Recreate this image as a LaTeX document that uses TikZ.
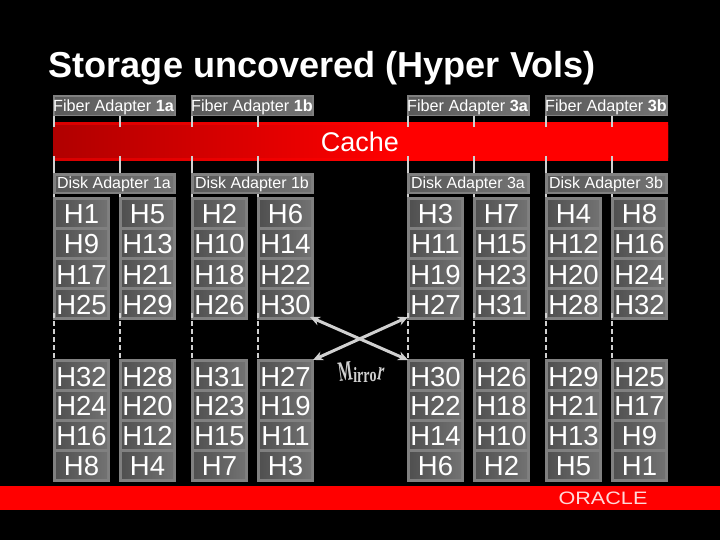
\documentclass[tikz,border=0pt]{standalone}
\usepackage{fontspec}
\usetikzlibrary{arrows.meta}
\setmainfont{Liberation Sans}
\newfontfamily\mirrorfont{Liberation Serif}
\definecolor{framegray}{HTML}{808080}
\definecolor{celldark}{HTML}{505050}
\definecolor{celllight}{HTML}{727272}
\definecolor{linegray}{HTML}{D0D0D0}
\definecolor{cacherim}{HTML}{D80000}
\definecolor{cachedark}{HTML}{B00000}
\pgfdeclarehorizontalshading{cacheinner}{100bp}{color(0bp)=(cachedark); color(25bp)=(cachedark); color(53bp)=(red); color(100bp)=(red)}
\pgfdeclarehorizontalshading{cacheouter}{100bp}{color(0bp)=(cacherim); color(25bp)=(cacherim); color(53bp)=(red); color(100bp)=(red)}
\tikzset{
  stackbox/.style={fill=framegray,draw=none,anchor=north west,inner sep=0pt,minimum width=57pt,minimum height=123pt},
  cellbox/.style={left color=celldark,right color=celllight,draw=none,inner sep=0pt,minimum width=51pt,minimum height=26pt,text height=21pt,text depth=0pt,text=white,font=\fontsize{27.5}{28}\selectfont},
  adapterbox/.style={fill=framegray,draw=none,inner sep=0pt,minimum width=123pt,minimum height=21pt},
  innerbox/.style={left color=celldark!80!framegray,right color=celllight!90!framegray,draw=none,inner sep=0pt,minimum width=117pt,minimum height=15pt},
  tick/.style={draw=linegray,line width=1.8pt},
  dashtick/.style={draw=linegray,line width=1.8pt,dash pattern=on 5pt off 3pt},
  mirrorarrow/.style={draw=linegray,line width=3pt,{Stealth[length=10pt,width=9pt]}-{Stealth[length=10pt,width=9pt]}}
}
\begin{document}
\begin{tikzpicture}[x=1pt,y=-1pt]
\useasboundingbox (0,0) rectangle (720,540);
\fill[black] (0,0) rectangle (720,540);
\node[anchor=base west,inner sep=0pt,text=white,font=\fontsize{36.1}{36}\selectfont\bfseries] (title) at (48.5,77.5) {Storage uncovered (Hyper Vols)};
% cache band
\shade[shading=cacheouter] (53,123) rectangle (668,161);
\shade[shading=cacheinner] (53,126) rectangle (668,158);
\node[text=white,inner sep=0pt,font=\fontsize{27}{27}\selectfont,anchor=base] (cache) at (360,152) {Cache};
% ticks
\foreach \tx/\nm in {54/a,120/b,192/c,258/d,408/e,474/f,546/g,612/h}{
  \coordinate (f\nm) at (\tx,116);
  \coordinate (c\nm) at (\tx,127);
  \coordinate (p\nm) at (\tx,156);
  \coordinate (d\nm) at (\tx,173);
  \coordinate (q\nm) at (\tx,194);
  \coordinate (s\nm) at (\tx,199);
  \draw[tick] (f\nm) -- (c\nm);
  \draw[tick] (p\nm) -- (d\nm);
  \draw[tick] (q\nm) -- (s\nm);
}
% adapters
\foreach \ax/\nm/\fa/\da in {53/1/1a/1a,191/2/1b/1b,407/3/3a/3a,545/4/3b/3b}{
  \node[adapterbox,anchor=north west] (fiber\nm) at (\ax,95) {};
  \node[innerbox,anchor=north west,minimum width=119pt,minimum height=17pt] (fiberin\nm) at (\ax+2,97) {};
  \node[anchor=base west,inner sep=0pt,text=white,font=\fontsize{16.2}{16}\selectfont] (fibert\nm) at (\ax,111.5) {Fiber Adapter \textbf{\fa}};
  \node[adapterbox,anchor=north west] (disk\nm) at (\ax,173) {};
  \node[innerbox,anchor=north west] (diskin\nm) at (\ax+3,176) {};
  \node[anchor=base,inner sep=0pt,text=white,font=\fontsize{16}{16}\selectfont] (diskt\nm) at (\ax+61,189) {Disk Adapter \da};
}
% stacks
\foreach \cx/\nm/\ta/\tb/\tc/\td/\ba/\bb/\bc/\bd in {
  53/a/H1/H9/H17/H25/H32/H24/H16/H8,
  119/b/H5/H13/H21/H29/H28/H20/H12/H4,
  191/c/H2/H10/H18/H26/H31/H23/H15/H7,
  257/d/H6/H14/H22/H30/H27/H19/H11/H3,
  407/e/H3/H11/H19/H27/H30/H22/H14/H6,
  473/f/H7/H15/H23/H31/H26/H18/H10/H2,
  545/g/H4/H12/H20/H28/H29/H21/H13/H5,
  611/h/H8/H16/H24/H32/H25/H17/H9/H1}{
  \node[stackbox] (top\nm) at (\cx,197) {};
  \node[stackbox] (bot\nm) at (\cx,359) {};
  \node[cellbox] (t1\nm) at (\cx+28.5,213.5) {\ta};
  \node[cellbox] (t2\nm) at (\cx+28.5,243.5) {\tb};
  \node[cellbox] (t3\nm) at (\cx+28.5,273.5) {\tc};
  \node[cellbox] (t4\nm) at (\cx+28.5,303.5) {\td};
  \node[cellbox] (b1\nm) at (\cx+28.5,375.5) {\ba};
  \node[cellbox] (b2\nm) at (\cx+28.5,405) {\bb};
  \node[cellbox] (b3\nm) at (\cx+28.5,435) {\bc};
  \node[cellbox] (b4\nm) at (\cx+28.5,465) {\bd};
  \draw[dashtick] (\cx+1,313) -- (\cx+1,360);
}
% mirror arrows
\coordinate (ma) at (310,317);
\coordinate (mb) at (408,360);
\coordinate (mc) at (313,360);
\coordinate (md) at (408,317);
\draw[mirrorarrow] (ma) -- (mb);
\draw[mirrorarrow] (mc) -- (md);
\node[inner sep=0pt,text=linegray,font=\mirrorfont\bfseries\fontsize{14}{14}\selectfont] (mirror) at (361,372)
 {\rotatebox{8}{\scalebox{1.05}[2]{M}}\raisebox{-1pt}{\scalebox{1}[1.55]{i}}\raisebox{-1.5pt}{\scalebox{1}[1.55]{r}}\raisebox{-1pt}{\scalebox{1}[1.55]{r}}\raisebox{0pt}{\scalebox{1}[1.4]{o}}\raisebox{2pt}{\rotatebox{-10}{\scalebox{1}[1.9]{r}}}};
% footer
\fill[red] (0,486) rectangle (720,510);
\node[inner sep=0pt,text=red!15!white,font=\fontsize{18}{18}\selectfont] (oracle) at (603,498.5) {\scalebox{1.2}[1]{ORACLE}};
\end{tikzpicture}
\end{document}
